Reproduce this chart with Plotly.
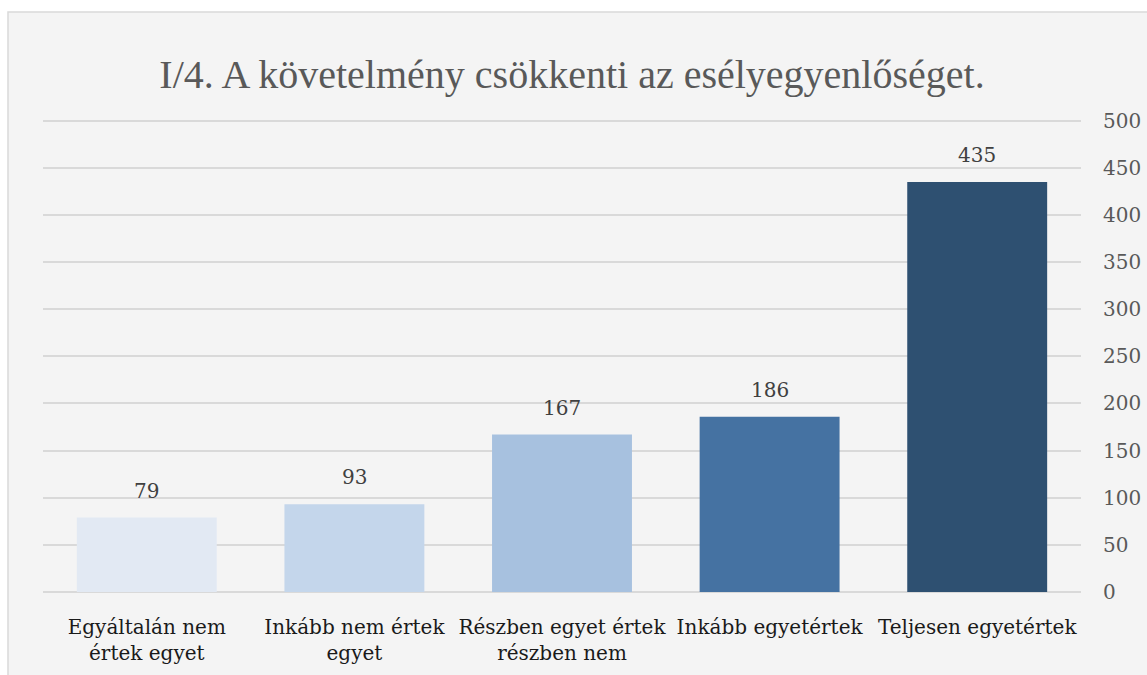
import plotly.graph_objects as go

categories = ["Egyáltalán nem<br>értek egyet", "Inkább nem értek<br>egyet",
              "Részben egyet értek<br>részben nem", "Inkább egyetértek", "Teljesen egyetértek"]
values = [79, 93, 167, 186, 435]
bar_colors = ["#e2e9f3", "#c4d6eb", "#a7c1df", "#4572a2", "#2e5071"]
tick_vals = [0, 50, 100, 150, 200, 250, 300, 350, 400, 450, 500]
title_text = "I/4. A követelmény csökkenti az esélyegyenlőséget."

W, H = 1147, 675
L, R, T, B = 43, 66, 116, 83
PW, PH = W - L - R, H - T - B

fig = go.Figure(go.Bar(
    x=categories, y=values,
    marker=dict(color=bar_colors, line=dict(width=0)),
    cliponaxis=False,
))

for c, v in zip(categories, values):
    fig.add_annotation(x=c, y=v, text=str(v), showarrow=False,
                       yanchor="bottom", yshift=13,
                       font=dict(family="DejaVu Serif", size=20, color="#404040"))

fig.update_layout(
    width=W, height=H,
    paper_bgcolor="white", plot_bgcolor="rgba(0,0,0,0)",
    margin=dict(l=L, r=R, t=T, b=B, autoexpand=False),
    bargap=0.326,
    showlegend=False,
    title=dict(text=title_text, x=572 / W, xanchor="center", y=1 - 74 / H, yanchor="middle",
               font=dict(family="Liberation Serif", size=40, color="#595959")),
    xaxis=dict(showgrid=False, showline=False, zeroline=False, ticks="",
               ticklabelstandoff=21,
               tickfont=dict(family="DejaVu Serif", size=20, color="#1a1a1a")),
    yaxis=dict(side="right", range=[0, 505], tickvals=tick_vals,
               showgrid=True, gridcolor="#d9d9d9", gridwidth=1.5,
               zeroline=True, zerolinecolor="#d9d9d9", zerolinewidth=1.5,
               showline=False, ticks="", ticklabelstandoff=21,
               tickfont=dict(family="DejaVu Serif", size=20, color="#595959")),
    shapes=[dict(type="rect", xref="paper", yref="paper",
                 x0=-(L - 8) / PW, x1=(W - L + 20) / PW, y0=-(B + 20) / PH, y1=1 + (T - 12) / PH,
                 fillcolor="#f4f4f4", line=dict(color="#d9d9d9", width=1.5), layer="below")],
)

fig.write_html("out.html", config={"displayModeBar": False},
               post_script="document.body.style.margin='0';document.body.style.overflow='hidden';")
